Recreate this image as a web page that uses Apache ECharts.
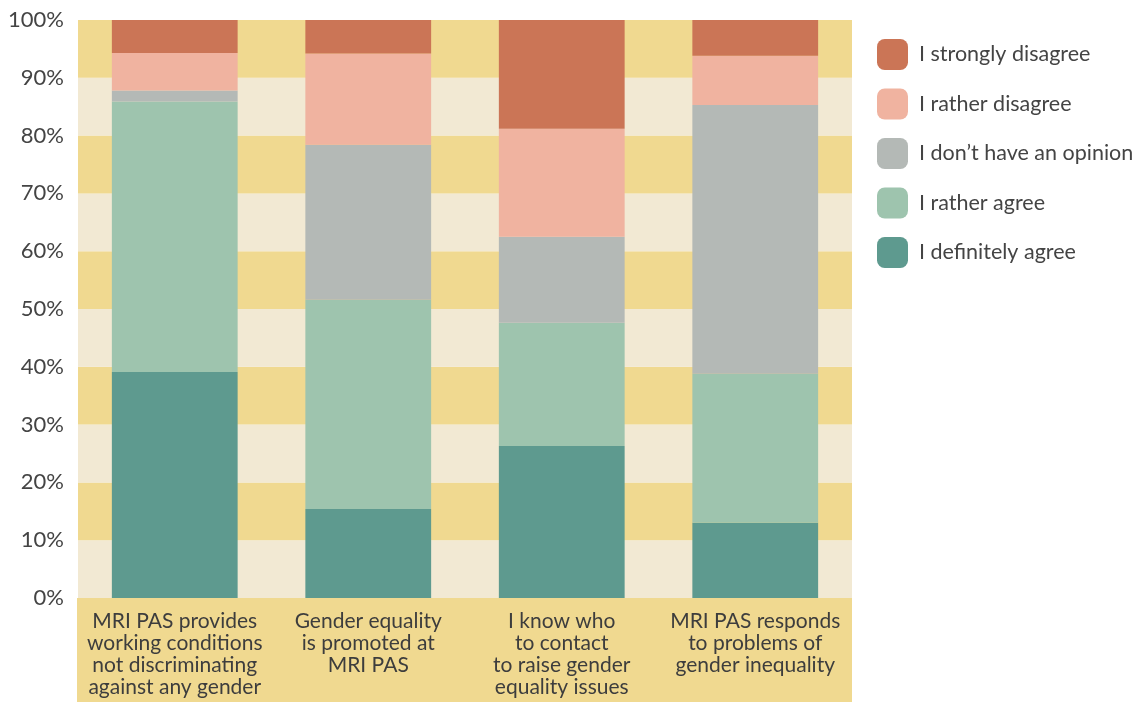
<!DOCTYPE html>
<html>
<head>
<meta charset="utf-8">
<script src="https://cdn.jsdelivr.net/npm/echarts@6/dist/echarts.min.js"></script>
<style>
  html, body { margin: 0; padding: 0; background: #fff; }
  #chart { width: 1139px; height: 702px; }
</style>
</head>
<body>
<div id="chart"></div>
<script>
var categories = [
    'MRI PAS provides\nworking conditions\nnot discriminating\nagainst any gender',
    'Gender equality\nis promoted at\nMRI PAS',
    'I know who\nto contact\nto raise gender\nequality issues',
    'MRI PAS responds\nto problems of\ngender inequality'
];
var definitelyAgree = [39.1, 15.4, 26.3, 13.0];
var ratherAgree = [46.8, 36.2, 21.3, 25.8];
var noOpinion = [1.9, 26.8, 14.9, 46.5];
var ratherDisagree = [6.5, 15.8, 18.7, 8.5];
var stronglyDisagree = [5.7, 5.8, 18.8, 6.2];

var chart = echarts.init(document.getElementById('chart'));

function bar(name, data, color) {
    return {
        name: name,
        type: 'bar',
        stack: 'total',
        data: data,
        barWidth: '65%',
        itemStyle: { color: color },
        emphasis: { disabled: true }
    };
}

var option = {
    animation: false,
    textStyle: { fontFamily: 'Lato' },
    grid: { left: 78, right: 287, top: 20, bottom: 104 },
    graphic: [{
        type: 'rect',
        shape: { x: 77, y: 598, width: 775, height: 104 },
        style: { fill: '#f0d990' },
        z: -1
    }],
    legend: {
        orient: 'vertical',
        left: 872,
        top: 34,
        itemWidth: 31,
        itemHeight: 31,
        itemGap: 18.5,
        icon: 'roundRect',
        textStyle: { fontSize: 21.5, color: '#444', fontFamily: 'Lato', padding: [0, 0, 0, 6] },
        data: ['I strongly disagree', 'I rather disagree', 'I don\u2019t have an opinion', 'I rather agree', 'I definitely agree']
    },
    xAxis: {
        type: 'category',
        data: categories,
        axisLine: { show: false },
        axisTick: { show: false },
        axisLabel: {
            interval: 0,
            margin: 12,
            fontSize: 21,
            lineHeight: 22,
            color: '#3d3d3d',
            fontFamily: 'Lato'
        }
    },
    yAxis: {
        type: 'value',
        min: 0,
        max: 100,
        interval: 10,
        axisLine: { show: false },
        axisTick: { show: false },
        splitLine: { show: false },
        splitArea: { show: true, areaStyle: { color: ['#f2e9d3', '#f0d990'] } },
        axisLabel: {
            formatter: '{value}%',
            fontSize: 22,
            margin: 14,
            color: '#444',
            fontFamily: 'Lato'
        }
    },
    series: [
        bar('I definitely agree', definitelyAgree, '#5e9a8f'),
        bar('I rather agree', ratherAgree, '#9ec4ae'),
        bar('I don\u2019t have an opinion', noOpinion, '#b4b9b6'),
        bar('I rather disagree', ratherDisagree, '#f0b3a0'),
        bar('I strongly disagree', stronglyDisagree, '#cb7556')
    ]
};

chart.setOption(option);
</script>
</body>
</html>
